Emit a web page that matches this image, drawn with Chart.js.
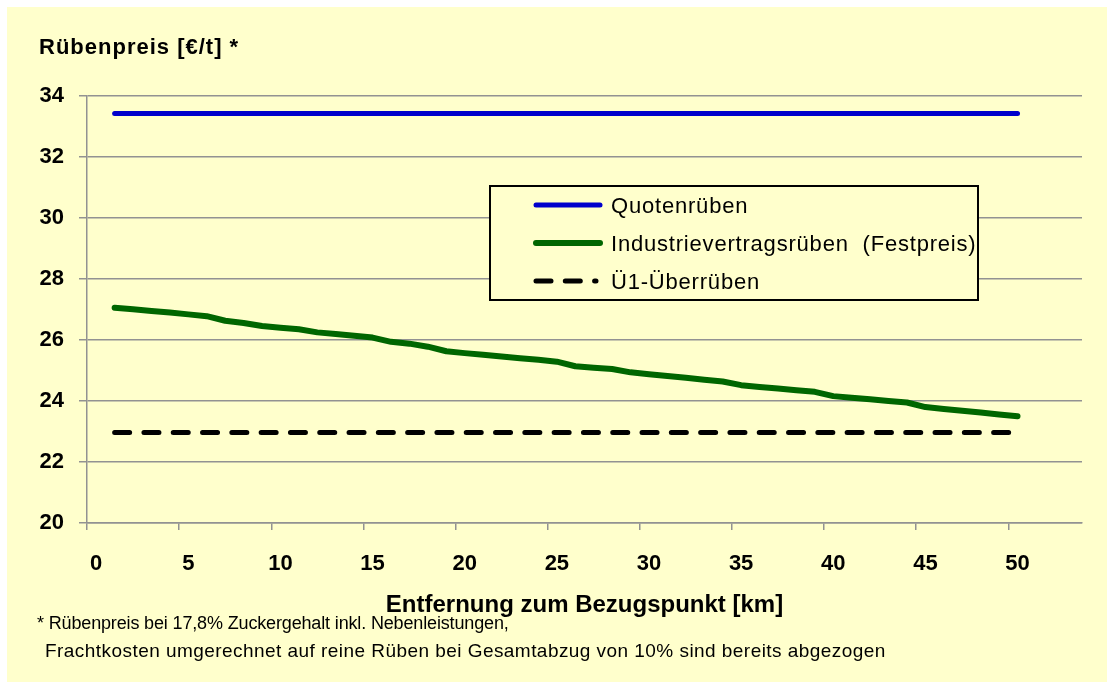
<!DOCTYPE html>
<html lang="de">
<head>
<meta charset="utf-8">
<title>Rübenpreis nach Entfernung</title>
<script src="https://cdn.jsdelivr.net/npm/chart.js@4.4.1/dist/chart.umd.min.js"></script>
<style>
  body { margin: 0; background: #fff; font-family: 'Liberation Sans', Arial, sans-serif; }
  #frame { position: absolute; left: 7px; top: 7px; width: 1100px; height: 675px; background: #FFFFCC; }
  #chartBox { position: absolute; left: 0; top: 0; width: 1100px; height: 675px; }
  #yTitle { position: absolute; left: 32px; top: 29px; font-size: 22px; line-height: 22px; font-weight: bold; letter-spacing: 1px; color: #000; white-space: nowrap; }
  .note { position: absolute; line-height: 28px; color: #000; white-space: nowrap; }
  #note1 { left: 30px; top: 602px; font-size: 18px; letter-spacing: -0.15px; }
  #note2 { left: 38px; top: 630px; font-size: 19px; letter-spacing: 0.45px; }
</style>
</head>
<body>
<div id="frame">
  <div id="chartBox"><canvas id="priceChart"></canvas></div>
  <div id="yTitle">Rübenpreis [€/t] *</div>
  <div class="note" id="note1">* Rübenpreis bei 17,8% Zuckergehalt inkl. Nebenleistungen,</div>
  <div class="note" id="note2">Frachtkosten umgerechnet auf reine Rüben bei Gesamtabzug von 10% sind bereits abgezogen</div>
</div>
<script>
// category slots of the x axis (only every 5th km is labelled)
const axisKm = [0,1,2,3,4,5,6,7,8,9,10,11,12,13,14,15,16,17,18,19,20,21,22,23,24,25,26,
  27,28,29,30,31,32,33,34,35,36,37,38,39,40,41,42,43,44,45,46,47,48,49,50,51,52,53];

// distances with values
const distKm = [1,2,3,4,5,6,7,8,9,10,11,12,13,14,15,16,17,18,19,20,21,22,23,24,25,
  26,27,28,29,30,31,32,33,34,35,36,37,38,39,40,41,42,43,44,45,46,47,48,49,50];

const quotenPreis = [33.43,33.43,33.43,33.43,33.43,33.43,33.43,33.43,33.43,33.43,
  33.43,33.43,33.43,33.43,33.43,33.43,33.43,33.43,33.43,33.43,
  33.43,33.43,33.43,33.43,33.43,33.43,33.43,33.43,33.43,33.43,
  33.43,33.43,33.43,33.43,33.43,33.43,33.43,33.43,33.43,33.43,
  33.43,33.43,33.43,33.43,33.43,33.43,33.43,33.43,33.43,33.43];

const industriePreis = [27.06,27.01,26.95,26.90,26.84,26.78,26.63,26.56,26.46,26.40,
  26.35,26.25,26.20,26.14,26.08,25.94,25.88,25.78,25.63,25.57,
  25.52,25.46,25.40,25.35,25.29,25.14,25.09,25.05,24.94,24.88,
  24.82,24.76,24.70,24.64,24.52,24.46,24.41,24.35,24.30,24.16,
  24.11,24.06,24.00,23.95,23.80,23.74,23.68,23.62,23.56,23.50];

const ueberPreis = [22.97,22.97,22.97,22.97,22.97,22.97,22.97,22.97,22.97,22.97,
  22.97,22.97,22.97,22.97,22.97,22.97,22.97,22.97,22.97,22.97,
  22.97,22.97,22.97,22.97,22.97,22.97,22.97,22.97,22.97,22.97,
  22.97,22.97,22.97,22.97,22.97,22.97,22.97,22.97,22.97,22.97,
  22.97,22.97,22.97,22.97,22.97,22.97,22.97,22.97,22.97,22.97];

const yTicks = [20,22,24,26,28,30,32,34];

const FONT = "'Liberation Sans', Arial, sans-serif";
const GRID = '#929292';

const toPoints = (vals) => distKm.map((km, i) => ({x: km, y: vals[i]}));

// legend in a framed box inside the plot, like the original
const boxLegend = {
  id: 'boxLegend',
  afterDatasetsDraw(chart) {
    const ctx = chart.ctx;
    const bx = 483, by = 179, bw = 488, bh = 114;
    ctx.save();
    ctx.fillStyle = '#FFFFCC';
    ctx.fillRect(bx, by, bw, bh);
    ctx.lineWidth = 2;
    ctx.strokeStyle = '#000';
    ctx.strokeRect(bx, by, bw, bh);
    ctx.font = '22px ' + FONT;
    ctx.letterSpacing = '0.8px';
    ctx.textBaseline = 'middle';
    ctx.fillStyle = '#000';
    chart.data.datasets.forEach((ds, i) => {
      const ry = by + 19 + i * 38;
      ctx.beginPath();
      ctx.lineWidth = ds.borderWidth;
      ctx.strokeStyle = ds.borderColor;
      ctx.lineCap = 'round';
      ctx.setLineDash(ds.borderDash || []);
      ctx.moveTo(bx + 46, ry);
      ctx.lineTo(bx + (ds.borderDash ? 106 : 110), ry);
      ctx.stroke();
      ctx.setLineDash([]);
      ctx.fillText(ds.label, bx + 121, ry + 2);
    });
    ctx.restore();
  }
};

new Chart(document.getElementById('priceChart'), {
  type: 'line',
  data: {
    labels: axisKm,
    datasets: [
      { label: 'Quotenrüben', data: toPoints(quotenPreis), borderColor: '#0000CC', borderWidth: 5 },
      { label: 'Industrievertragsrüben  (Festpreis)', data: toPoints(industriePreis), borderColor: '#006600', borderWidth: 6 },
      { label: 'Ü1-Überrüben', data: toPoints(ueberPreis), borderColor: '#000000', borderWidth: 5, borderDash: [15, 14.3] }
    ]
  },
  plugins: [boxLegend],
  options: {
    responsive: true,
    maintainAspectRatio: false,
    animation: false,
    layout: { padding: { left: 0, top: 89, right: 25, bottom: 0 } },
    elements: {
      point: { radius: 0 },
      line: { tension: 0, borderCapStyle: 'round', borderJoinStyle: 'round', fill: false }
    },
    plugins: {
      legend: { display: false },
      tooltip: { enabled: false }
    },
    scales: {
      x: {
        type: 'category',
        offset: true,
        afterFit: (s) => { s.height = 159; },
        border: { color: GRID, width: 1.5 },
        grid: {
          offset: true,
          drawOnChartArea: false,
          tickLength: 7,
          lineWidth: 1.5,
          color: (c) => (c.index % 5 === 0 && c.index <= 50) ? GRID : 'rgba(0,0,0,0)'
        },
        ticks: {
          autoSkip: false,
          maxRotation: 0,
          padding: 21,
          color: '#000',
          font: { family: FONT, size: 22, weight: 'bold' },
          callback: function(v, i) { return axisKm[i] % 5 === 0 && axisKm[i] <= 50 ? String(axisKm[i]) : ''; }
        },
        title: {
          display: true,
          text: 'Entfernung zum Bezugspunkt [km]',
          color: '#000',
          font: { family: FONT, size: 24, weight: 'bold' },
          padding: { top: 0, bottom: 62 }
        }
      },
      y: {
        min: yTicks[0],
        max: yTicks[yTicks.length - 1],
        afterFit: (s) => { s.width = 80; },
        afterBuildTicks: (s) => { s.ticks = yTicks.map(v => ({value: v})); },
        border: { color: GRID, width: 1.5 },
        grid: { color: GRID, lineWidth: 1.5, tickLength: 8 },
        ticks: {
          padding: 15,
          color: '#000',
          font: { family: FONT, size: 22, weight: 'bold' }
        }
      }
    }
  }
});
</script>
</body>
</html>
